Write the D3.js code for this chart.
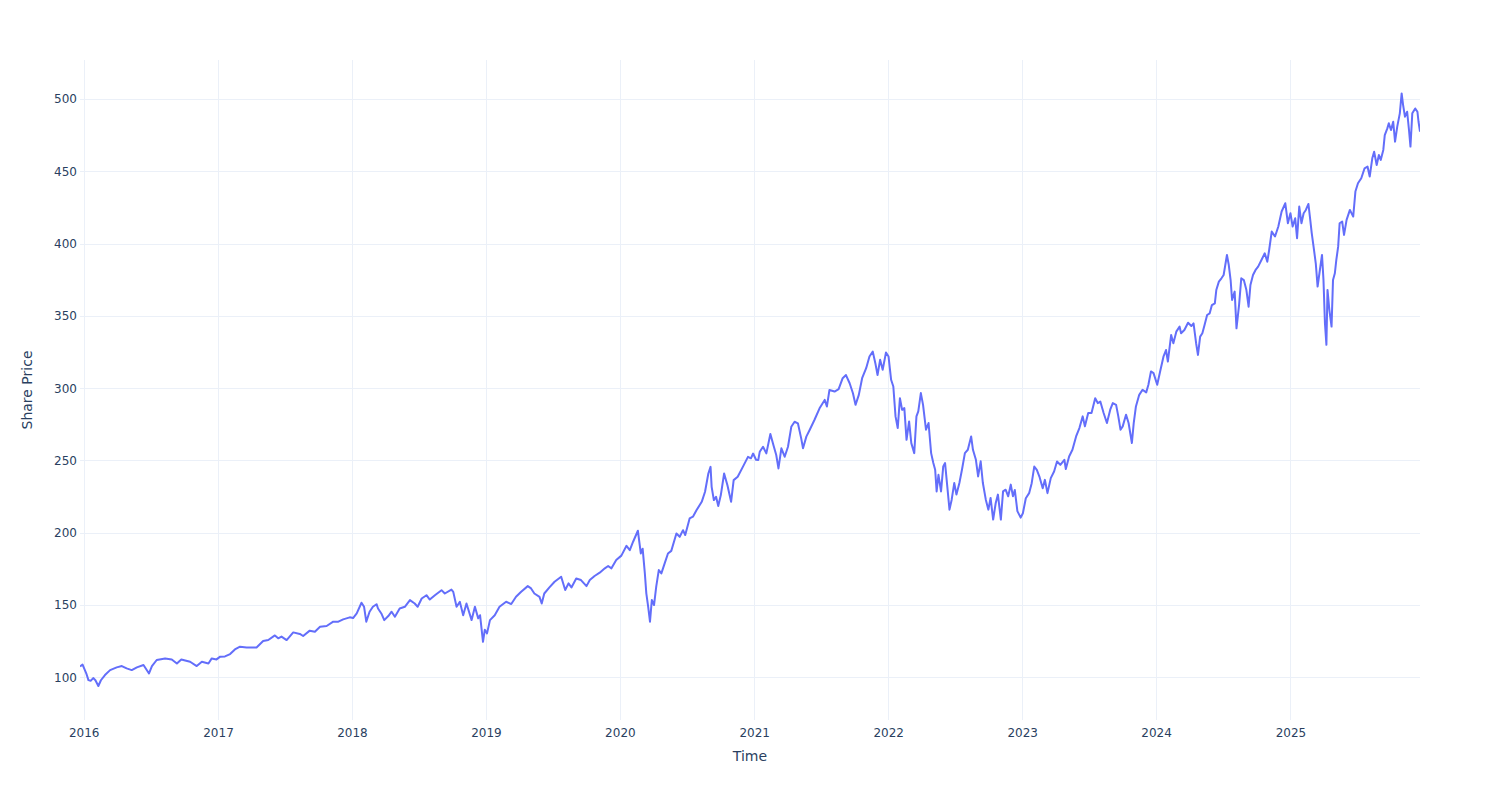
<!DOCTYPE html>
<html>
<head>
<meta charset="utf-8">
<script src="https://cdn.jsdelivr.net/npm/d3@7"></script>
<style>
  html, body { margin: 0; padding: 0; background: #fff; }
  svg { display: block; }
  text { font-family: "DejaVu Sans", Verdana, sans-serif; fill: #2a3f5f; }
</style>
</head>
<body>
<svg id="chart" width="1500" height="800"></svg>
<script>
// ---- data ----
const dates = [
  "2015-12-22","2015-12-29","2016-01-08","2016-01-14","2016-01-20","2016-01-27","2016-02-02","2016-02-10","2016-02-17","2016-02-28",
  "2016-03-13","2016-03-31","2016-04-14","2016-04-27","2016-05-11","2016-05-25","2016-06-12","2016-06-27","2016-07-05","2016-07-18",
  "2016-08-10","2016-08-28","2016-09-11","2016-09-23","2016-10-17","2016-11-04","2016-11-18","2016-12-06","2016-12-15","2016-12-28",
  "2017-01-07","2017-01-20","2017-02-03","2017-02-16","2017-03-02","2017-03-20","2017-04-16","2017-05-04","2017-05-18","2017-06-05",
  "2017-06-14","2017-06-23","2017-07-07","2017-07-25","2017-08-12","2017-08-21","2017-09-08","2017-09-22","2017-10-06","2017-10-24",
  "2017-11-11","2017-11-25","2017-12-08","2017-12-26",
  "2018-01-04","2018-01-14","2018-01-27","2018-02-03","2018-02-09","2018-02-18","2018-02-27","2018-03-09","2018-03-13","2018-03-22",
  "2018-03-30","2018-04-10","2018-04-19","2018-04-28","2018-05-11","2018-05-25","2018-06-08","2018-06-21","2018-06-29","2018-07-10",
  "2018-07-23","2018-08-01","2018-08-15","2018-09-02","2018-09-11","2018-09-29","2018-10-04","2018-10-13","2018-10-22","2018-10-31",
  "2018-11-09","2018-11-23","2018-12-02","2018-12-11","2018-12-16","2018-12-24","2018-12-29",
  "2019-01-04","2019-01-12","2019-01-25","2019-02-07","2019-02-25","2019-03-11","2019-03-24","2019-04-07","2019-04-25","2019-05-04",
  "2019-05-13","2019-05-27","2019-06-02","2019-06-09","2019-06-23","2019-07-07","2019-07-25","2019-08-05","2019-08-14","2019-08-22",
  "2019-09-04","2019-09-17","2019-10-02","2019-10-11","2019-10-24","2019-11-07","2019-11-21","2019-11-30","2019-12-09","2019-12-22",
  "2020-01-05","2020-01-19","2020-01-28","2020-02-06","2020-02-19","2020-02-27","2020-03-03","2020-03-09","2020-03-13","2020-03-18",
  "2020-03-23","2020-03-28","2020-04-03","2020-04-09","2020-04-16","2020-04-23","2020-05-02","2020-05-11","2020-05-20","2020-06-03",
  "2020-06-12","2020-06-21","2020-06-27","2020-07-09","2020-07-18","2020-07-28","2020-08-11","2020-08-20","2020-08-29","2020-09-04",
  "2020-09-07","2020-09-13","2020-09-19","2020-09-25","2020-10-02","2020-10-11","2020-10-20","2020-10-30","2020-11-06","2020-11-17",
  "2020-12-01","2020-12-15","2020-12-23","2020-12-29",
  "2021-01-06","2021-01-12","2021-01-16","2021-01-25","2021-02-03","2021-02-14","2021-02-23","2021-03-02","2021-03-08","2021-03-16",
  "2021-03-25","2021-04-03","2021-04-12","2021-04-21","2021-04-30","2021-05-09","2021-05-14","2021-05-23","2021-06-01","2021-06-14",
  "2021-06-28","2021-07-12","2021-07-18","2021-07-25","2021-08-08","2021-08-19","2021-08-30","2021-09-08","2021-09-18","2021-09-27",
  "2021-10-04","2021-10-13","2021-10-22","2021-11-02","2021-11-11","2021-11-20","2021-11-27","2021-12-03","2021-12-10","2021-12-17",
  "2021-12-26",
  "2022-01-02","2022-01-09","2022-01-15","2022-01-21","2022-01-27","2022-02-02","2022-02-08","2022-02-14","2022-02-20","2022-02-27",
  "2022-03-05","2022-03-13","2022-03-19","2022-03-24","2022-03-31","2022-04-06","2022-04-14","2022-04-21","2022-04-28","2022-05-04",
  "2022-05-09","2022-05-13","2022-05-18","2022-05-25","2022-05-31","2022-06-05","2022-06-11","2022-06-17","2022-06-23","2022-06-30",
  "2022-07-06","2022-07-14","2022-07-21","2022-07-29","2022-08-06","2022-08-15","2022-08-20","2022-08-28","2022-09-03","2022-09-10",
  "2022-09-16","2022-09-24","2022-10-01","2022-10-07","2022-10-14","2022-10-21","2022-10-27","2022-11-04","2022-11-10","2022-11-17",
  "2022-11-24","2022-12-01","2022-12-07","2022-12-12","2022-12-19","2022-12-28",
  "2023-01-03","2023-01-11","2023-01-20","2023-01-27","2023-02-03","2023-02-10","2023-02-17","2023-02-26","2023-03-04","2023-03-11",
  "2023-03-20","2023-03-29","2023-04-06","2023-04-15","2023-04-26","2023-04-30","2023-05-09","2023-05-18","2023-05-28","2023-06-06",
  "2023-06-15","2023-06-21","2023-06-30","2023-07-09","2023-07-19","2023-07-26","2023-08-02","2023-08-11","2023-08-20","2023-08-29",
  "2023-09-05","2023-09-14","2023-09-20","2023-09-26","2023-10-02","2023-10-11","2023-10-18","2023-10-27","2023-11-01","2023-11-07",
  "2023-11-16","2023-11-25","2023-12-05","2023-12-11","2023-12-18","2023-12-25",
  "2024-01-04","2024-01-13","2024-01-21","2024-01-28","2024-02-02","2024-02-11","2024-02-17","2024-02-25","2024-03-05","2024-03-09",
  "2024-03-18","2024-03-28","2024-04-06","2024-04-12","2024-04-19","2024-04-24","2024-04-30","2024-05-06","2024-05-12","2024-05-19",
  "2024-05-26","2024-06-01","2024-06-09","2024-06-13","2024-06-20","2024-06-27","2024-07-03","2024-07-12","2024-07-17","2024-07-22",
  "2024-07-26","2024-08-02","2024-08-07","2024-08-14","2024-08-20","2024-08-27","2024-09-03","2024-09-09","2024-09-14","2024-09-21",
  "2024-09-28","2024-10-05","2024-10-14","2024-10-23","2024-10-30","2024-11-04","2024-11-11","2024-11-20","2024-11-29","2024-12-08",
  "2024-12-18","2024-12-25",
  "2025-01-01","2025-01-07","2025-01-14","2025-01-19","2025-01-25","2025-01-31","2025-02-06","2025-02-12","2025-02-19","2025-02-24",
  "2025-02-28","2025-03-05","2025-03-11","2025-03-16","2025-03-21","2025-03-28","2025-04-01","2025-04-05","2025-04-09","2025-04-12",
  "2025-04-17","2025-04-23","2025-04-27","2025-05-02","2025-05-06","2025-05-11","2025-05-15","2025-05-22","2025-05-27","2025-06-03",
  "2025-06-12","2025-06-21","2025-06-27","2025-07-04","2025-07-13","2025-07-22","2025-07-30","2025-08-05","2025-08-12","2025-08-17",
  "2025-08-24","2025-08-30","2025-09-04","2025-09-11","2025-09-15","2025-09-22","2025-09-26","2025-10-02","2025-10-08","2025-10-13",
  "2025-10-19","2025-10-26","2025-10-31","2025-11-04","2025-11-09","2025-11-15","2025-11-20","2025-11-24","2025-11-29","2025-12-07",
  "2025-12-13","2025-12-16","2025-12-20"
];
const prices = [
  107.5,108.8,102.8,98.1,97.6,99.5,98.0,94.0,98.0,101.6,
  105.0,106.9,107.8,106.2,105.0,106.9,108.5,102.7,107.8,112.0,
  113.1,112.4,109.6,112.4,110.8,107.8,110.8,109.6,113.1,112.4,
  114.3,114.5,116.1,119.3,121.2,120.7,120.7,125.1,125.8,129.0,
  127.0,128.2,125.8,131.1,130.0,128.6,132.3,131.6,135.0,135.5,
  138.5,138.5,140.1,141.5,
  141.0,144.2,151.6,148.8,138.5,145.4,148.8,150.6,147.6,144.2,
  139.6,142.4,145.4,141.9,147.6,148.8,153.4,151.1,148.8,154.5,
  156.8,153.8,156.8,160.3,158.0,160.7,159.1,148.8,152.2,143.0,
  151.1,139.6,148.8,140.8,143.0,124.6,133.0,
  130.4,139.6,143.0,148.8,152.3,150.7,155.7,159.2,163.1,161.5,
  158.0,155.7,151.1,158.0,162.2,166.1,169.6,160.4,165.0,162.2,
  168.4,167.3,163.1,167.3,170.1,172.4,175.4,177.0,175.4,181.2,
  184.2,191.0,188.0,193.8,201.4,185.7,189.0,171.9,158.1,148.9,
  138.5,153.5,150.0,162.7,174.2,171.9,178.8,185.7,187.5,199.5,
  197.2,201.8,198.4,209.9,211.1,215.7,221.4,228.4,241.0,245.6,
  231.8,222.6,224.9,218.5,226.1,241.0,232.9,221.4,236.4,238.7,
  245.6,252.5,251.5,254.8,
  250.5,250.3,256.0,259.5,254.9,268.3,260.0,253.8,244.5,258.4,
  252.6,259.5,273.3,276.8,275.7,265.3,258.4,266.5,271.1,278.0,
  286.1,291.9,287.3,298.8,297.7,299.3,306.9,309.1,303.4,296.5,
  288.5,295.4,306.9,313.8,321.9,325.3,317.3,309.1,319.6,312.7,
  324.7,
  321.9,305.8,301.2,280.5,272.4,293.1,285.0,286.2,264.3,277.0,
  262.0,255.1,280.5,283.9,296.6,288.5,271.3,275.9,255.1,248.2,
  243.6,228.6,240.1,228.6,245.9,248.2,232.1,216.0,222.9,234.4,
  226.4,234.4,243.6,255.1,257.4,266.6,257.4,250.5,239.0,249.4,
  234.4,222.9,216.0,224.1,209.1,220.6,226.4,209.1,228.6,229.8,
  225.2,233.3,225.2,229.6,215.0,210.5,
  213.5,223.9,227.4,234.3,245.8,243.5,238.9,230.8,236.6,227.4,
  237.8,242.4,249.3,247.0,250.5,244.1,252.8,257.4,266.6,272.4,
  280.5,273.6,282.8,282.8,293.1,289.7,290.8,282.8,275.9,285.1,
  289.7,288.5,280.5,271.3,273.6,281.7,275.9,262.1,275.9,287.4,
  295.4,298.9,297.1,302.4,311.6,310.4,
  302.4,312.7,321.8,326.4,318.4,336.8,331.1,339.1,342.6,338.0,
  340.3,345.3,343.0,344.8,331.1,323.0,335.7,338.0,343.7,350.6,
  351.8,357.5,358.7,367.9,373.7,376.0,378.3,392.1,385.2,374.8,
  361.0,366.8,341.4,357.5,376.0,374.8,367.9,356.4,371.4,378.3,
  381.8,384.1,388.7,393.3,387.5,395.6,408.3,404.9,411.8,422.2,
  427.9,414.1,
  421.0,411.8,417.5,403.7,425.6,414.1,421.0,423.3,427.4,416.4,
  407.2,397.9,386.4,370.3,379.5,392.2,374.9,345.0,330.0,368.0,
  354.2,342.6,374.9,379.5,388.7,397.9,414.1,415.2,406.0,416.4,
  423.3,418.7,436.0,441.7,445.2,452.1,453.3,446.4,459.0,463.6,
  454.4,461.3,457.9,464.8,475.1,479.7,483.2,478.6,484.3,470.5,
  480.9,490.1,503.9,495.8,487.8,491.2,478.6,467.1,490.1,493.5,
  491.2,484.3,477.4
];
const yTickValues = [100, 150, 200, 250, 300, 350, 400, 450, 500];
const xTickYears = ["2016","2017","2018","2019","2020","2021","2022","2023","2024","2025"];
const xTitle = "Time";
const yTitle = "Share Price";

// ---- layout ----
const W = 1500, H = 800;
const margin = { left: 80, right: 80, top: 60, bottom: 80 };
const plotL = margin.left, plotR = W - margin.right, plotT = margin.top, plotB = H - margin.bottom;

const parse = d3.utcParse("%Y-%m-%d");
const data = dates.map((d, i) => ({ date: parse(d), value: prices[i] }));

const x = d3.scaleUtc().domain(d3.extent(data, d => d.date)).range([plotL, plotR]);
const y = d3.scaleLinear().domain([70.5, 527]).range([plotB, plotT]);

const svg = d3.select("#chart");
svg.append("rect").attr("width", W).attr("height", H).attr("fill", "#fff");

const xTicks = xTickYears.map(s => d3.utcParse("%Y")(s));

// grid
const grid = svg.append("g");
grid.selectAll("line.vx").data(xTicks).join("line")
  .attr("x1", d => Math.round(x(d)) + 0.5).attr("x2", d => Math.round(x(d)) + 0.5)
  .attr("y1", plotT).attr("y2", plotB)
  .attr("stroke", "#ebf0f8").attr("stroke-width", 1);
grid.selectAll("line.hy").data(yTickValues).join("line")
  .attr("x1", plotL).attr("x2", plotR)
  .attr("y1", d => Math.round(y(d)) + 0.5).attr("y2", d => Math.round(y(d)) + 0.5)
  .attr("stroke", "#ebf0f8").attr("stroke-width", 1);

// axes (labels only, Plotly style)
const xAxis = d3.axisBottom(x).tickValues(xTicks).tickFormat(d3.utcFormat("%Y")).tickSize(0).tickPadding(8);
const gx = svg.append("g").attr("transform", `translate(0,${plotB})`).call(xAxis);
gx.select(".domain").remove();
gx.selectAll("text").attr("font-size", 12).attr("fill", "#2a3f5f")
  .attr("font-family", '"DejaVu Sans", Verdana, sans-serif');

const yAxis = d3.axisLeft(y).tickValues(yTickValues).tickSize(0).tickPadding(3);
const gy = svg.append("g").attr("transform", `translate(${plotL - 0},0)`).call(yAxis);
gy.select(".domain").remove();
gy.selectAll("text").attr("font-size", 12).attr("fill", "#2a3f5f")
  .attr("font-family", '"DejaVu Sans", Verdana, sans-serif');

// clip + line
svg.append("clipPath").attr("id", "clip").append("rect")
  .attr("x", plotL).attr("y", plotT).attr("width", plotR - plotL).attr("height", plotB - plotT);

const line = d3.line().x(d => x(d.date)).y(d => y(d.value));
svg.append("path").datum(data)
  .attr("clip-path", "url(#clip)")
  .attr("fill", "none")
  .attr("stroke", "#636efa")
  .attr("stroke-width", 2)
  .attr("stroke-linejoin", "round")
  .attr("d", line);

// titles
svg.append("text").attr("x", (plotL + plotR) / 2).attr("y", 761)
  .attr("text-anchor", "middle").attr("font-size", 14).text(xTitle);
svg.append("text")
  .attr("transform", `translate(32,${(plotT + plotB) / 2}) rotate(-90)`)
  .attr("text-anchor", "middle").attr("font-size", 14).text(yTitle);
</script>
</body>
</html>
